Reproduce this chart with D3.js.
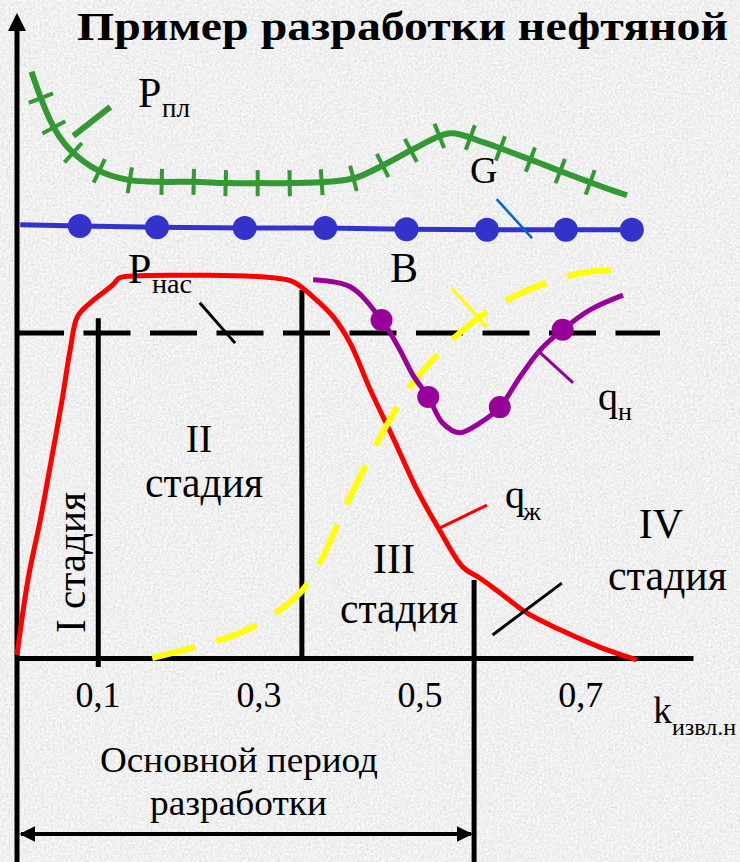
<!DOCTYPE html>
<html>
<head>
<meta charset="utf-8">
<script src="https://cdn.jsdelivr.net/npm/d3@7"></script>
<style>
    body { margin: 0; background: #dedede; }
    svg { display: block; }
    text { font-family: "Liberation Serif", "Times New Roman", serif; fill: #000; }
</style>
</head>
<body>
<div id="chart"></div>
<script>
// k = коэффициент извлечения нефти, v = условные единицы по вертикали
var kTicks = [0.1, 0.3, 0.5, 0.7];
var kTickLabels = ["0,1", "0,3", "0,5", "0,7"];

// пластовое давление P_пл
var pPlast = [[0.018, 91.6], [0.029, 87.7], [0.041, 84.1], [0.053, 81.4], [0.066, 79.4],
    [0.099, 76.3], [0.138, 74.7], [0.178, 74.4], [0.219, 74.4], [0.261, 74.2],
    [0.302, 74.2], [0.343, 74.2], [0.385, 74.4], [0.420, 75.0], [0.455, 77.0],
    [0.497, 79.8], [0.538, 82.0], [0.579, 80.6], [0.612, 79.1], [0.650, 77.3],
    [0.687, 75.5], [0.728, 73.6], [0.758, 72.3]];

// линия B (с точками)
var bLine = [[0.004, 67.7], [0.078, 67.5], [0.174, 67.3], [0.283, 67.2], [0.383, 67.2],
    [0.484, 67.0], [0.584, 66.9], [0.682, 66.9], [0.764, 66.9]];
var bDots = bLine.slice(1);

// дебит жидкости q_ж
var qLiquid = [[0.000, 0.5], [0.014, 12.5], [0.029, 21.6], [0.041, 29.8], [0.056, 40.3],
    [0.066, 48.1], [0.075, 53.3], [0.091, 55.5], [0.119, 58.3], [0.127, 59.4],
    [0.144, 59.7], [0.227, 59.8], [0.311, 59.5], [0.343, 58.8], [0.368, 56.4],
    [0.393, 53.3], [0.414, 49.2], [0.439, 41.9], [0.467, 34.5], [0.497, 26.3],
    [0.525, 20.0], [0.554, 14.2], [0.575, 12.5], [0.600, 10.2], [0.634, 7.0],
    [0.675, 4.4], [0.724, 1.7], [0.770, -0.3]];

// дебит нефти q_н
var qOil = [[0.368, 59.1], [0.414, 58.0], [0.453, 52.8], [0.476, 48.1], [0.492, 44.2],
    [0.511, 40.8], [0.529, 36.7], [0.550, 35.2], [0.575, 36.7], [0.600, 39.2],
    [0.625, 43.9], [0.650, 48.1], [0.678, 51.3], [0.712, 54.4], [0.753, 56.7]];
var qOilDots = [[0.453, 52.8], [0.511, 40.8], [0.600, 39.2], [0.678, 51.3]];

// обводненность (желтая пунктирная)
var waterCut = [[0.168, 0.0], [0.227, 1.9], [0.277, 3.9], [0.314, 6.4], [0.352, 10.2],
    [0.376, 14.8], [0.410, 24.2], [0.435, 30.5], [0.463, 37.2], [0.492, 43.0],
    [0.525, 47.7], [0.543, 50.0], [0.584, 54.1], [0.616, 56.4], [0.662, 58.8],
    [0.703, 60.2], [0.740, 60.6]];

// давление насыщения P_нас
var pSat = [[0.0, 50.8], [0.799, 50.8]];

// границы стадий
var stageK = [0.101, 0.354, 0.568];
var stageTop = [53.1, 57.5, 12.2];

var svgWidth = 740;
var svgHeight = 862;

var svg = d3.select("#chart").append("svg")
    .attr("width", svgWidth)
    .attr("height", svgHeight);

var xScale = d3.scaleLinear().domain([0, 0.84]).range([17, 693]);
var yScale = d3.scaleLinear().domain([0, 100]).range([658, 18]);
var baseY = yScale(0);

// background texture
var defs = svg.append("defs");
var grain = defs.append("filter").attr("id", "grain")
    .attr("x", 0).attr("y", 0).attr("width", "100%").attr("height", "100%");
grain.append("feTurbulence").attr("type", "fractalNoise")
    .attr("baseFrequency", 0.45).attr("numOctaves", 3).attr("seed", 7);
grain.append("feColorMatrix").attr("type", "saturate").attr("values", 0);
var ct = grain.append("feComponentTransfer");
["feFuncR", "feFuncG", "feFuncB"].forEach(function (f) {
    ct.append(f).attr("type", "linear").attr("slope", 0.5).attr("intercept", 0.62);
});
ct.append("feFuncA").attr("type", "table").attr("tableValues", "1 1");

svg.append("rect").attr("width", svgWidth).attr("height", svgHeight).attr("fill", "#dedede");
svg.append("rect").attr("width", svgWidth).attr("height", svgHeight)
    .attr("filter", "url(#grain)");

// arrow marker for the period arrow
defs.append("marker").attr("id", "arr")
    .attr("viewBox", "0 0 10 10").attr("refX", 9).attr("refY", 5)
    .attr("markerWidth", 4).attr("markerHeight", 4.5)
    .attr("markerUnits", "strokeWidth")
    .attr("orient", "auto-start-reverse")
    .append("path").attr("d", "M0,0 L10,5 L0,10 z").attr("fill", "#000");

// stage boundaries
svg.selectAll(".stage")
    .data(stageK)
    .enter()
    .append("line")
    .attr("x1", function (d) { return xScale(d); })
    .attr("x2", function (d) { return xScale(d); })
    .attr("y1", function (d, i) { return yScale(stageTop[i]); })
    .attr("y2", function (d, i) { return i == 0 ? baseY + 9 : (i == 2 ? svgHeight : baseY); })
    .attr("stroke", "#000")
    .attr("stroke-width", 5);

// x axis
var xAxis = d3.axisBottom(xScale)
    .tickValues(kTicks)
    .tickSize(0)
    .tickSizeOuter(0)
    .tickFormat(function (d, i) { return kTickLabels[i]; });
var gx = svg.append("g")
    .attr("transform", "translate(0," + baseY + ")")
    .call(xAxis);
gx.select(".domain").attr("stroke", "#000").attr("stroke-width", 5);
gx.selectAll("text")
    .attr("y", 49).attr("dy", 0)
    .attr("font-size", 36)
    .attr("font-family", "Liberation Serif, serif")
    .attr("fill", "#000");

// y axis with arrow
svg.append("line")
    .attr("x1", xScale(0)).attr("x2", xScale(0))
    .attr("y1", svgHeight).attr("y2", 28)
    .attr("stroke", "#000").attr("stroke-width", 5);
svg.append("path")
    .attr("d", "M" + xScale(0) + ",13 L" + (xScale(0) - 9) + ",31 L" + (xScale(0) + 9) + ",31 Z")
    .attr("fill", "#000");

// P_нас dashed line
svg.append("line")
    .attr("x1", xScale(pSat[0][0])).attr("x2", xScale(pSat[1][0]))
    .attr("y1", yScale(pSat[0][1])).attr("y2", yScale(pSat[1][1]))
    .attr("stroke", "#000").attr("stroke-width", 5)
    .attr("stroke-dasharray", "47,19.5");

var line = d3.line()
    .x(function (d) { return xScale(d[0]); })
    .y(function (d) { return yScale(d[1]); })
    .curve(d3.curveCatmullRom.alpha(0.5));

// P_пл green curve with cross ticks
var plastPath = svg.append("path")
    .datum(pPlast)
    .attr("d", line)
    .attr("fill", "none")
    .attr("stroke", "#339933")
    .attr("stroke-width", 6);

var node = plastPath.node();
var total = node.getTotalLength();
var ticks = [];
for (var s = 28; s < total - 15; s += 32) {
    var a = node.getPointAtLength(Math.max(0, s - 3));
    var b = node.getPointAtLength(Math.min(total, s + 3));
    var p = node.getPointAtLength(s);
    var dx = b.x - a.x, dy = b.y - a.y, len = Math.hypot(dx, dy);
    var nx = -dy / len, ny = dx / len;
    ticks.push([p.x - nx * 13, p.y - ny * 13, p.x + nx * 13, p.y + ny * 13]);
}
svg.selectAll(".ptick")
    .data(ticks)
    .enter()
    .append("line")
    .attr("x1", function (d) { return d[0]; })
    .attr("y1", function (d) { return d[1]; })
    .attr("x2", function (d) { return d[2]; })
    .attr("y2", function (d) { return d[3]; })
    .attr("stroke", "#339933")
    .attr("stroke-width", 4);

// B blue line with dots
svg.append("path")
    .datum(bLine)
    .attr("d", d3.line().x(function (d) { return xScale(d[0]); }).y(function (d) { return yScale(d[1]); }))
    .attr("fill", "none")
    .attr("stroke", "#3333cc")
    .attr("stroke-width", 5);
svg.selectAll(".bdot")
    .data(bDots)
    .enter()
    .append("circle")
    .attr("cx", function (d) { return xScale(d[0]); })
    .attr("cy", function (d) { return yScale(d[1]); })
    .attr("r", 12)
    .attr("fill", "#3333cc");

// q_ж red
svg.append("path")
    .datum(qLiquid)
    .attr("d", line)
    .attr("fill", "none")
    .attr("stroke", "#ff0000")
    .attr("stroke-width", 5);

// water cut yellow dashed
svg.append("path")
    .datum(waterCut)
    .attr("d", line)
    .attr("fill", "none")
    .attr("stroke", "#ffff00")
    .attr("stroke-width", 6)
    .attr("stroke-dasharray", "44,22");

// q_н purple
svg.append("path")
    .datum(qOil)
    .attr("d", line)
    .attr("fill", "none")
    .attr("stroke", "#990099")
    .attr("stroke-width", 5);
svg.selectAll(".qdot")
    .data(qOilDots)
    .enter()
    .append("circle")
    .attr("cx", function (d) { return xScale(d[0]); })
    .attr("cy", function (d) { return yScale(d[1]); })
    .attr("r", 11)
    .attr("fill", "#990099");

// leader lines
var leaders = [
    { a: [0.070, 81.6], b: [0.116, 86.1], c: "#339933", w: 6 },
    { a: [0.596, 71.7], b: [0.640, 65.6], c: "#0066cc", w: 2.5 },
    { a: [0.227, 55.5], b: [0.271, 49.2], c: "#000", w: 3 },
    { a: [0.540, 57.8], b: [0.584, 51.7], c: "#ffff00", w: 3 },
    { a: [0.650, 47.7], b: [0.691, 43.0], c: "#990099", w: 3 },
    { a: [0.525, 20.3], b: [0.584, 23.9], c: "#ff0000", w: 3 },
    { a: [0.591, 3.6], b: [0.677, 11.7], c: "#000", w: 3 }
];
svg.selectAll(".leader")
    .data(leaders)
    .enter()
    .append("line")
    .attr("x1", function (d) { return xScale(d.a[0]); })
    .attr("y1", function (d) { return yScale(d.a[1]); })
    .attr("x2", function (d) { return xScale(d.b[0]); })
    .attr("y2", function (d) { return yScale(d.b[1]); })
    .attr("stroke", function (d) { return d.c; })
    .attr("stroke-width", function (d) { return d.w; });

// period arrow
svg.append("line")
    .attr("x1", xScale(0) + 4).attr("x2", xScale(stageK[2]) - 3)
    .attr("y1", 834).attr("y2", 834)
    .attr("stroke", "#000").attr("stroke-width", 4)
    .attr("marker-start", "url(#arr)")
    .attr("marker-end", "url(#arr)");

// text labels
function label(x, y, txt, size, opt) {
    opt = opt || {};
    var t = svg.append("text")
        .attr("x", x).attr("y", y)
        .attr("font-size", size)
        .attr("text-anchor", opt.anchor || "start")
        .text(txt);
    if (opt.bold) t.attr("font-weight", "bold");
    if (opt.len) t.attr("textLength", opt.len).attr("lengthAdjust", "spacingAndGlyphs");
    if (opt.rotate) t.attr("transform", "rotate(" + opt.rotate + "," + x + "," + y + ")");
    return t;
}

label(77, 40, "Пример разработки нефтяной", 40, { bold: true, len: 651 });
label(138, 107, "P", 42);
label(162, 117, "пл", 28, { len: 28 });
label(470, 183, "G", 38);
label(390, 282, "B", 42);
label(128, 283, "P", 42);
label(152, 293, "нас", 28, { len: 40 });
label(199, 452, "II", 40, { anchor: "middle" });
label(145, 497, "стадия", 44, { len: 118 });
label(85, 633, "I стадия", 42, { len: 141, rotate: -90 });
label(394, 573, "III", 42, { anchor: "middle" });
label(340, 623, "стадия", 44, { len: 118 });
label(661, 538, "IV", 42, { anchor: "middle" });
label(608, 590, "стадия", 44, { len: 119 });
label(505, 508, "q", 40);
label(523, 520, "ж", 26);
label(598, 410, "q", 40);
label(618, 420, "н", 26);
label(653, 723, "k", 38);
label(672, 735, "извл.н", 24);
label(100, 772, "Основной период", 36, { len: 278 });
label(150, 815, "разработки", 36, { len: 177 });
</script>
</body>
</html>
